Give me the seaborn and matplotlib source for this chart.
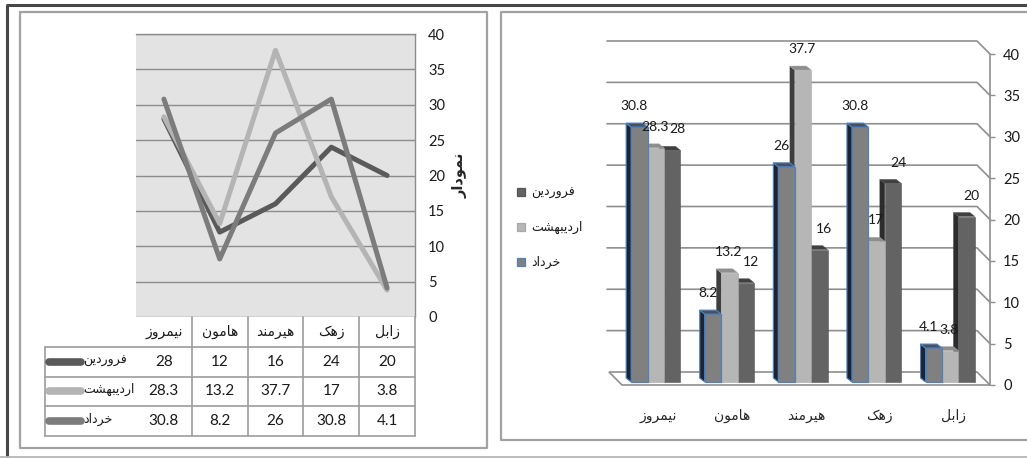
import numpy as np
import pandas as pd
import matplotlib
matplotlib.use("Agg")
import matplotlib.pyplot as plt
import seaborn as sns
from matplotlib.patches import Polygon, Patch
from matplotlib.lines import Line2D
from matplotlib import transforms

# ---------------------------------------------------------------- data
cities = ["نیمروز", "هامون", "هیرمند", "زهک", "زابل"]
months = ["فروردین", "اردیبهشت", "خرداد"]
farvardin = [28, 12, 16, 24, 20]
ordibehesht = [28.3, 13.2, 37.7, 17, 3.8]
khordad = [30.8, 8.2, 26, 30.8, 4.1]
y_ticks = [0, 5, 10, 15, 20, 25, 30, 35, 40]
axis_title = "نمودار"

# ---------------------------------------------------------------- Persian shaping
# matplotlib has no contextual shaping, so letters are mapped to their
# presentation forms (isolated, final, initial, medial) and laid out visually.
_FORMS = {
    "ا": ("\uFE8D", "\uFE8E", None, None),
    "ب": ("\uFE8F", "\uFE90", "\uFE91", "\uFE92"),
    "ت": ("\uFE95", "\uFE96", "\uFE97", "\uFE98"),
    "خ": ("\uFEA5", "\uFEA6", "\uFEA7", "\uFEA8"),
    "د": ("\uFEA9", "\uFEAA", None, None),
    "ر": ("\uFEAD", "\uFEAE", None, None),
    "ز": ("\uFEAF", "\uFEB0", None, None),
    "ش": ("\uFEB5", "\uFEB6", "\uFEB7", "\uFEB8"),
    "ف": ("\uFED1", "\uFED2", "\uFED3", "\uFED4"),
    "ل": ("\uFEDD", "\uFEDE", "\uFEDF", "\uFEE0"),
    "م": ("\uFEE1", "\uFEE2", "\uFEE3", "\uFEE4"),
    "ن": ("\uFEE5", "\uFEE6", "\uFEE7", "\uFEE8"),
    "ه": ("\uFEE9", "\uFEEA", "\uFEEB", "\uFEEC"),
    "و": ("\uFEED", "\uFEEE", None, None),
    "ی": ("\uFBFC", "\uFBFD", "\uFBFE", "\uFBFF"),
    "ک": ("\uFB8E", "\uFB8F", "\uFB90", "\uFB91"),
}


def shape(word):
    out = []
    for i, c in enumerate(word):
        if c not in _FORMS:
            out.append(c)
            continue
        iso, fin, ini, med = _FORMS[c]
        prev = word[i - 1] if i > 0 else None
        nxt = word[i + 1] if i + 1 < len(word) else None
        j_prev = prev in _FORMS and _FORMS[prev][2] is not None
        j_next = ini is not None and nxt in _FORMS
        if j_prev and j_next:
            out.append(med)
        elif j_prev:
            out.append(fin)
        elif j_next:
            out.append(ini)
        else:
            out.append(iso)
    return "".join(reversed(out))


city_lbl = [shape(c) for c in cities]
month_lbl = [shape(m) for m in months]
series = dict(zip(month_lbl, [farvardin, ordibehesht, khordad]))

df = pd.DataFrame(
    [(c, m, v) for m, vals in series.items() for c, v in zip(city_lbl, vals)],
    columns=["city", "month", "value"],
)

F, O, K = month_lbl
line_pal = {F: "#5a5a5a", O: "#b4b4b4", K: "#7c7c7c"}
front_pal = {F: "#636363", O: "#b6b6b6", K: "#808080"}
side_pal = {F: "#2c2c2c", O: "#3e3e3e", K: "#1d2430"}
top_pal = {F: "#404040", O: "#8e8e8e", K: "#4a505c"}
edge_pal = {F: "#555555", O: "#a8a8a8", K: "#4f81bd"}
# horizontal nudge (pixels) of the value labels, per series
label_dx = {K: -4, O: 0, F: 6}

# ---------------------------------------------------------------- figure
sns.set_style("white")
plt.rcParams["font.family"] = ["Lato", "DejaVu Sans"]
plt.rcParams["text.color"] = "#1a1a1a"

W, H = 1027, 458
fig = plt.figure(figsize=(W / 100, H / 100), dpi=100)
fig.patch.set_facecolor("white")


def box(x0, y0, x1, y1):
    return [x0 / W, 1 - y1 / H, (x1 - x0) / W, (y1 - y0) / H]


def fpt(x, y):
    return (x / W, 1 - y / H)


def fline(pts, **kw):
    xs, ys = zip(*[fpt(x, y) for x, y in pts])
    fig.add_artist(Line2D(xs, ys, transform=fig.transFigure, **kw))


# page frames
fline([(7, 455), (7, 5), (1027, 5)], color="#474747", lw=2.2)
fline([(0, 457), (1027, 457)], color="#b0b0b0", lw=1.2)
fline([(20, 12), (487, 12), (487, 448), (20, 448), (20, 12)], color="#a2a2a2", lw=1.6)
fline([(1030, 12), (501, 12), (501, 440), (1030, 440)], color="#a2a2a2", lw=1.6)

# ---------------------------------------------------------------- line chart
ax = fig.add_axes(box(136, 34, 415, 317))
ax.set_facecolor("#e3e3e3")
sns.lineplot(data=df, x="city", y="value", hue="month", hue_order=month_lbl,
             palette=line_pal, linewidth=3.6, sort=False, legend=False, ax=ax)
for ln in ax.lines:
    ln.set_solid_joinstyle("round")
    ln.set_solid_capstyle("round")
ax.set_xlim(-0.5, 4.5)
ax.set_ylim(0, 40)
ax.set_yticks(y_ticks)
ax.yaxis.grid(True, color="#8c8c8c", lw=1.0)
ax.set_axisbelow(True)
for s in ["left", "bottom"]:
    ax.spines[s].set_visible(False)
for s in ["top", "right"]:
    ax.spines[s].set_color("#8c8c8c")
    ax.spines[s].set_linewidth(1.0)
ax.yaxis.tick_right()
ax.tick_params(axis="y", length=0, pad=9.4, labelsize=10.5, labelcolor="#1a1a1a")
ax.tick_params(axis="x", bottom=False, labelbottom=False)
ax.set_xlabel("")
ax.set_ylabel(shape(axis_title), rotation=90, fontsize=10.5, fontweight="bold",
              family=["DejaVu Sans"])
ax.yaxis.set_label_position("right")
ax.yaxis.set_label_coords(1.135, 0.5)

# data table under the line chart
tab = fig.add_axes(box(136, 317, 415, 436))
tab.set_xlim(ax.get_xlim())
tab.set_ylim(4, 0)
tab.axis("off")
ppx = 279 / 5.0  # pixels per category column
left_edge = -0.5 - 91 / ppx
tkw = dict(color="#9c9c9c", lw=1.2, clip_on=False)
for r in [1, 2, 3, 4]:
    tab.plot([left_edge, 4.5], [r, r], **tkw)
tab.plot([left_edge, left_edge], [1, 4], **tkw)
for b in np.arange(0.5, 5, 1):
    tab.plot([b, b], [0, 4], **tkw)
for i, c in enumerate(city_lbl):
    tab.text(i, 0.5, c, ha="center", va="center", fontsize=10,
             family=["DejaVu Sans"])
for r, (m, vals) in enumerate(series.items(), start=1):
    for i, v in enumerate(vals):
        tab.text(i, r + 0.5, f"{v:g}", ha="center", va="center", fontsize=11)
    tab.plot([-0.5 - 87 / ppx, -0.5 - 55 / ppx], [r + 0.5, r + 0.5],
             color=line_pal[m], lw=5.5, solid_capstyle="round", clip_on=False)
    tab.text(-0.5 - 53 / ppx, r + 0.45, m, ha="left", va="center", fontsize=9,
             family=["DejaVu Sans"])

# ---------------------------------------------------------------- 3-D style bars
bx = fig.add_axes(box(622, 54, 990, 385))
bar_order = [K, O, F]
sns.barplot(data=df, x="city", y="value", hue="month", hue_order=bar_order,
            palette=front_pal, width=0.67, saturation=1, errorbar=None,
            legend=False, ax=bx)
bx.set_xlim(-0.5, 4.5)
bx.set_ylim(0, 40)
bx.set_yticks(y_ticks)

p0 = bx.transData.transform((0, 0))
p1 = bx.transData.transform((1, 1))
sx, sy = p1[0] - p0[0], p1[1] - p0[1]

front_tr = bx.transData + transforms.Affine2D().translate(-3, 3)
ddx, ddy = 5 / sx, 4 / sy

hue_of = {}
for m in bar_order:
    for c in city_lbl:
        hue_of[len(hue_of)] = m

for idx, p in enumerate(list(bx.patches)):
    m = hue_of[idx]
    x0, w, h = p.get_x(), p.get_width(), p.get_height()
    z = 3 + (5 - x0)
    p.set_transform(front_tr)
    p.set_zorder(z + 0.02)
    p.set_edgecolor(edge_pal[m])
    p.set_linewidth(0.9 if m == K else 0.4)
    side = Polygon([(x0, 0), (x0, h), (x0 - ddx, h + ddy), (x0 - ddx, ddy)],
                   closed=True, facecolor=side_pal[m], edgecolor=edge_pal[m],
                   lw=0.8 if m == K else 0.3, transform=front_tr, zorder=z)
    top = Polygon([(x0, h), (x0 + w, h), (x0 + w - ddx, h + ddy), (x0 - ddx, h + ddy)],
                  closed=True, facecolor=top_pal[m], edgecolor=edge_pal[m],
                  lw=0.8 if m == K else 0.3, transform=front_tr, zorder=z + 0.01,
                  clip_on=False)
    bx.add_patch(side)
    bx.add_patch(top)
    bx.annotate(f"{h:g}", xy=(x0 + w / 2, h), xycoords=front_tr,
                xytext=(label_dx[m] * 0.72 - 0.7, 15), textcoords="offset points",
                ha="center", va="center", fontsize=10, color="#1a1a1a", zorder=20,
                annotation_clip=False)

# floor and back wall
bkx, bky = 13 / sx, 13 / sy
bx.add_patch(Polygon([(-0.5, 0), (4.5, 0), (4.5 - bkx, bky), (-0.5 - bkx, bky)],
                     closed=True, facecolor="white", edgecolor="#8f8f8f", lw=1.2,
                     zorder=1, clip_on=False))
for v in y_ticks[1:]:
    bx.plot([-0.5 - bkx - 2 / sx, 4.5 - bkx, 4.5], [v + bky, v + bky, v],
            color="#8f8f8f", lw=1.2, zorder=0.5, clip_on=False)

for s in ["left", "top", "bottom"]:
    bx.spines[s].set_visible(False)
bx.spines["right"].set_color("#8f8f8f")
bx.spines["right"].set_linewidth(1.2)
bx.yaxis.tick_right()
bx.tick_params(axis="y", direction="out", length=3.6, width=1.0, color="#8f8f8f",
               pad=5.8, labelsize=10.5, labelcolor="#1a1a1a")
bx.set_xticks(np.arange(0.5, 5, 1), minor=True)
bx.tick_params(axis="x", which="major", length=0, pad=17, labelsize=10)
bx.tick_params(axis="x", which="minor", direction="out", length=4.5, width=1.0,
               color="#8f8f8f")
for t in bx.get_xticklabels():
    t.set_family(["DejaVu Sans"])
bx.set_xlabel("")
bx.set_ylabel("")

handles = [Patch(facecolor=front_pal[m], edgecolor=edge_pal[m], lw=0.9) for m in month_lbl]
leg = fig.legend(handles, month_lbl, loc="upper left",
                 bbox_to_anchor=fpt(506, 175), frameon=False,
                 handlelength=0.6, handleheight=0.6, handletextpad=0.5,
                 labelspacing=1.75, prop={"family": ["DejaVu Sans"], "size": 9})

fig.savefig("out.png", dpi=100, facecolor="white")
